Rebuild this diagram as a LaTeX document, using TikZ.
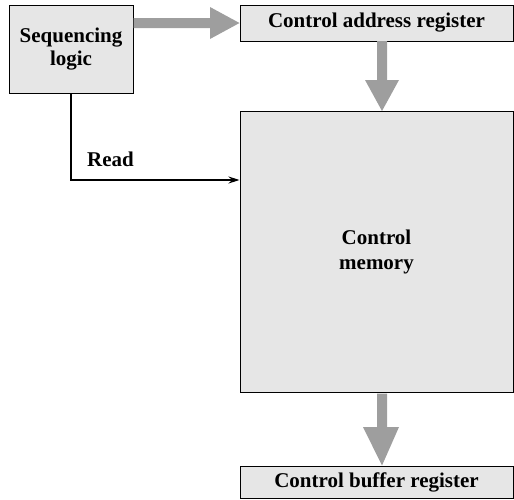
\documentclass[tikz,border=0pt]{standalone}
\usepackage{fontspec}
\setmainfont{Liberation Serif}
\usetikzlibrary{arrows.meta}
\definecolor{boxfill}{HTML}{E6E6E6}
\definecolor{fatgray}{HTML}{9E9E9E}
\begin{document}
\begin{tikzpicture}[x=1pt,y=-1pt,
  lbl/.style={font=\fontsize{21}{23}\selectfont\bfseries},
  blk/.style={lbl,draw=black,line width=1pt,fill=boxfill,inner sep=0pt,align=center},
  fat/.style={draw=none,fill=fatgray},
  thin/.style={line width=1.3pt,-{Stealth[length=11pt,width=7pt]}}]
\useasboundingbox (0,0) rectangle (514,499);
\node[blk,minimum width=124pt,minimum height=88pt] (seq) at (71,49) {Sequencing\\logic};
\node[blk,minimum width=273pt,minimum height=36pt] (car) at (376.5,23) {Control address register};
\node[blk,minimum width=273pt,minimum height=281pt,font=\fontsize{21}{25}\selectfont\bfseries] (mem) at (376.5,252) {Control\\memory};
\node[blk,minimum width=273pt,minimum height=32pt] (cbr) at (376.5,482) {Control buffer register};
% fat arrows
\fill[fat] (seq.east |- 0,18) -- (210,18) -- (210,7) -- (car.west |- 0,23) -- (210,39) -- (210,28) -- (seq.east |- 0,28) -- cycle;
\fill[fat] (377,41) -- (377,80) -- (365,80) -- (mem.north -| 382,0) -- (399,80) -- (387,80) -- (387,41) -- cycle;
\fill[fat] (377,393.5) -- (377,427) -- (363,427) -- (cbr.north -| 382,0) -- (399,427) -- (387,427) -- (387,393.5) -- cycle;
% read line
\coordinate (rd) at (71,180);
\draw[thin] (seq.south -| rd) -- (rd) -- (rd -| mem.west);
\node[lbl,anchor=west,inner sep=0pt] (readlbl) at (87,159) {Read};
\end{tikzpicture}
\end{document}
